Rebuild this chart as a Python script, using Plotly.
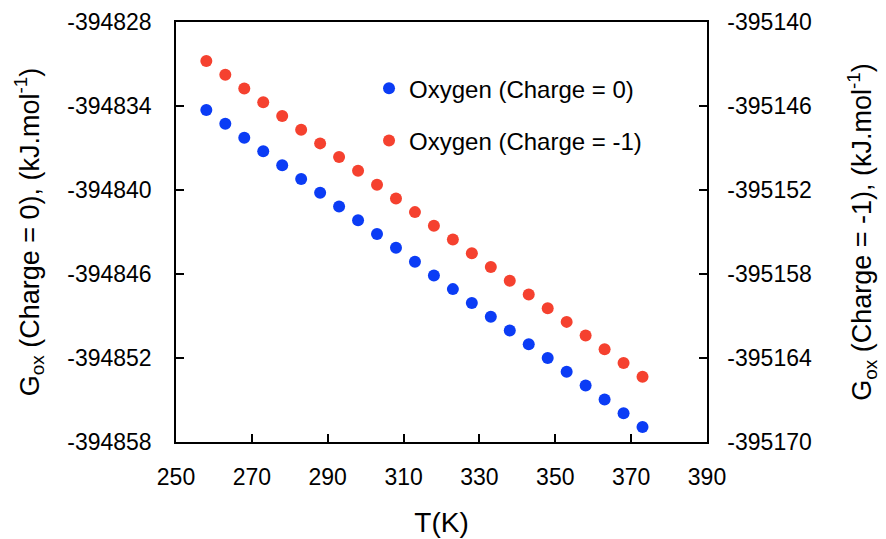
import plotly.graph_objects as go

T = [258, 263, 268, 273, 278, 283, 288, 293, 298, 303, 308, 313,
     318, 323, 328, 333, 338, 343, 348, 353, 358, 363, 368, 373]

g_charge0 = [-394834.29, -394835.27, -394836.26, -394837.24, -394838.23, -394839.21,
             -394840.19, -394841.18, -394842.16, -394843.15, -394844.13, -394845.12,
             -394846.10, -394847.08, -394848.07, -394849.05, -394850.04, -394851.02,
             -394852.00, -394852.99, -394853.97, -394854.96, -394855.94, -394856.93]

g_charge_m1 = [-395142.79, -395143.77, -395144.75, -395145.73, -395146.71, -395147.69,
               -395148.67, -395149.65, -395150.63, -395151.62, -395152.60, -395153.58,
               -395154.56, -395155.54, -395156.52, -395157.50, -395158.48, -395159.46,
               -395160.44, -395161.42, -395162.40, -395163.38, -395164.36, -395165.34]

x_ticks = [250, 270, 290, 310, 330, 350, 370, 390]
y1_ticks = [-394828, -394834, -394840, -394846, -394852, -394858]
y2_ticks = [-395140, -395146, -395152, -395158, -395164, -395170]

FONT = "Liberation Sans, Arial, sans-serif"
BLUE = "#0B3CF5"
RED = "#F5412F"

fig = go.Figure()
fig.add_trace(go.Scatter(x=T, y=g_charge0, mode="markers", name="Oxygen (Charge = 0)",
                         marker=dict(color=BLUE, size=12), legendgroup="a", yaxis="y"))
fig.add_trace(go.Scatter(x=T, y=g_charge_m1, mode="markers", name="Oxygen (Charge = -1)",
                         marker=dict(color=RED, size=12), legendgroup="b", yaxis="y2"))

axis_common = dict(showgrid=False, zeroline=False, showline=True, linecolor="black",
                   linewidth=1.5, ticks="inside", ticklen=8, tickcolor="black",
                   tickwidth=1.5, automargin=False,
                   tickfont=dict(family=FONT, size=23, color="black"))

fig.update_layout(
    width=886, height=539,
    margin=dict(l=176, r=179, t=22, b=97),
    paper_bgcolor="white", plot_bgcolor="white",
    font=dict(family=FONT, color="black"),
    xaxis=dict(range=[250, 390], tickvals=x_ticks, mirror=True,
               title=dict(text="T(K)", font=dict(family=FONT, size=28), standoff=23),
               ticklabelstandoff=14, **axis_common),
    yaxis=dict(range=[y1_ticks[-1], y1_ticks[0]], tickvals=y1_ticks,
               ticktext=[str(v) for v in y1_ticks], mirror=True,
               title=dict(text="G<sub>ox</sub> (Charge = 0), (kJ.mol<sup>-1</sup>)",
                          font=dict(family=FONT, size=27), standoff=20),
               ticklabelstandoff=18, **axis_common),
    yaxis2=dict(range=[y2_ticks[-1], y2_ticks[0]], tickvals=y2_ticks,
                ticktext=[str(v) for v in y2_ticks], overlaying="y", side="right",
                title=dict(text="G<sub>ox</sub> (Charge = -1), (kJ.mol<sup>-1</sup>)",
                           font=dict(family=FONT, size=27), standoff=41),
                ticklabelstandoff=14, **axis_common),
    showlegend=True,
    legend=dict(x=0.3635, xanchor="left", y=0.895, yanchor="top",
                bgcolor="rgba(0,0,0,0)", font=dict(family=FONT, size=24),
                tracegroupgap=18, traceorder="grouped"),
)

fig.write_html("out.html")
